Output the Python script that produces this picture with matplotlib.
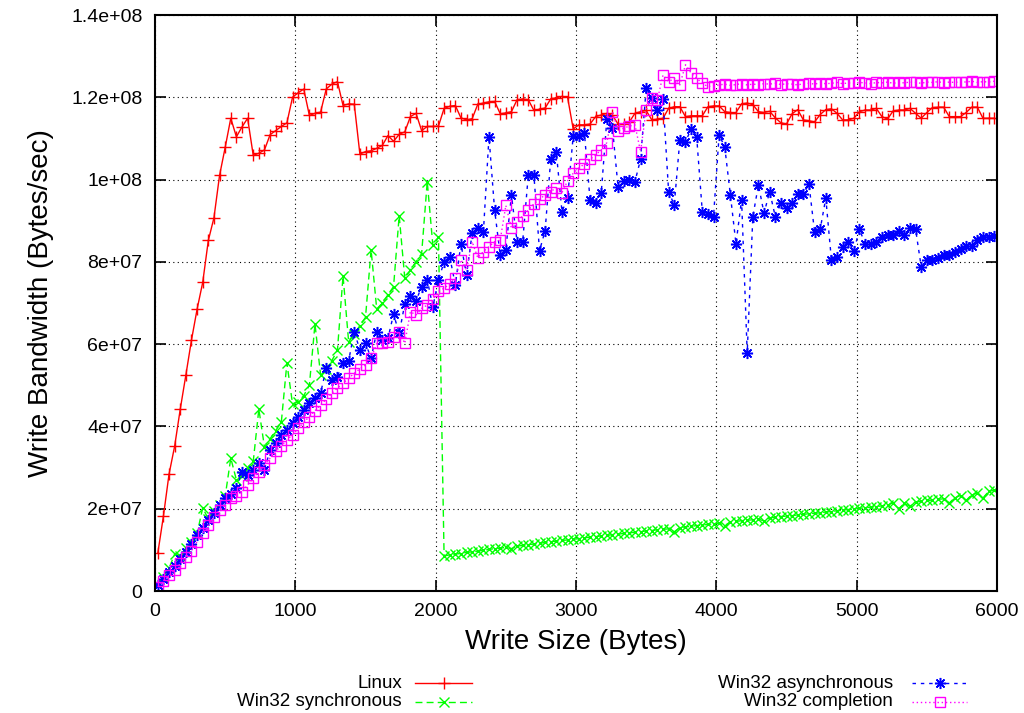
import numpy as np
import matplotlib.pyplot as plt
from matplotlib.lines import Line2D

plt.rcParams['font.family'] = ['Liberation Sans', 'DejaVu Sans']

# write sizes in bytes
sizes = np.arange(20, 6000, 40)

# bandwidth values in units of 1e6 bytes/sec
linux = [9.2, 18.2, 28.4, 35.2, 44.2, 52.5, 61.0, 68.5, 75.0, 85.2,
         90.7, 101.0, 107.8, 114.9, 110.4, 112.8, 114.9, 105.9, 106.4, 107.2,
         110.9, 111.9, 112.9, 113.8, 120.0, 121.1, 122.0, 115.6, 116.1, 116.4,
         122.0, 123.2, 123.8, 118.0, 118.4, 118.3, 106.2, 106.8, 107.0, 107.6,
         108.3, 110.7, 109.3, 111.0, 111.6, 115.3, 116.1, 111.9, 112.9, 112.9,
         113.0, 117.3, 117.8, 118.0, 115.0, 114.5, 114.8, 118.3, 118.6, 118.9,
         119.0, 116.0, 116.2, 116.5, 119.4, 119.6, 119.4, 116.8, 117.1, 117.4,
         119.6, 119.9, 120.2, 120.0, 112.3, 113.3, 113.3, 113.5, 115.3, 115.7,
         116.1, 115.6, 113.5, 113.5, 114.0, 116.1, 116.5, 116.8, 114.5, 114.7,
         114.9, 117.3, 117.7, 117.7, 115.3, 115.5, 115.5, 115.5, 117.7, 117.9,
         117.9, 116.5, 116.3, 116.3, 118.4, 118.6, 118.2, 116.5, 116.3, 116.6,
         115.0, 113.8, 113.5, 116.0, 117.0, 114.5, 114.3, 114.0, 115.8, 117.0,
         117.2, 116.1, 114.5, 114.5, 114.9, 116.5, 116.9, 116.9, 117.3, 115.3,
         114.7, 116.7, 116.9, 116.9, 117.3, 116.1, 114.9, 116.3, 117.5, 117.6,
         117.6, 115.3, 115.3, 115.3, 116.3, 117.6, 117.6, 114.9, 114.9, 114.9]

win32_sync = [1.5, 3.5, 5.5, 9.0, 8.5, 10.5, 12.0, 14.0, 20.2, 17.5,
              19.5, 21.0, 23.0, 32.3, 27.0, 28.0, 30.0, 31.5, 44.2, 35.0,
              37.0, 39.0, 41.0, 55.4, 45.5, 46.0, 47.5, 50.0, 64.9, 52.5,
              54.0, 56.0, 58.5, 76.6, 60.5, 62.5, 64.5, 66.5, 82.9, 68.5,
              70.0, 72.0, 74.0, 91.2, 76.0, 78.0, 80.0, 82.0, 99.5, 84.0,
              86.0,
              8.5, 8.8, 9.0, 9.1, 9.4, 9.5, 9.7, 9.9, 10.1, 10.3,
              10.4, 10.6, 10.3, 10.9, 11.1, 11.3, 11.4, 11.6, 11.8, 12.0,
              12.1, 12.3, 12.4, 12.6, 12.7, 12.9, 13.1, 13.2, 13.4, 13.5,
              13.7, 13.8, 14.0, 14.1, 14.3, 14.4, 14.6, 14.7, 14.9, 15.0,
              15.1, 14.4, 15.4, 15.6, 15.7, 15.9, 16.0, 16.2, 16.3, 16.5,
              15.9, 16.8, 16.9, 17.1, 17.2, 17.3, 17.5, 17.0, 17.8, 17.9,
              18.1, 18.2, 18.3, 18.5, 18.6, 18.8, 18.9, 19.0, 19.2, 19.3,
              19.5, 19.6, 19.8, 19.9, 20.1, 20.2, 20.4, 20.5, 20.7, 20.9,
              21.5, 20.0, 21.3, 20.6, 21.6, 21.8, 22.0, 22.1, 22.3, 22.4,
              21.4, 22.7, 23.2, 22.0, 23.4, 23.8, 22.6, 24.2, 24.5]

win32_async = [1.5, 3.0, 4.5, 6.0, 7.8, 9.6, 11.5, 13.5, 15.2, 17.3,
               19.0, 21.0, 22.5, 23.5, 25.0, 29.0, 28.2, 29.4, 31.0, 29.4,
               34.3, 35.9, 37.9, 39.1, 40.9, 42.4, 44.0, 45.6, 46.8, 48.1,
               54.1, 51.3, 52.1, 55.5, 56.0, 63.0, 58.6, 60.2, 56.6, 63.0,
               61.0, 61.4, 67.3, 62.6, 69.8, 71.7, 70.5, 74.0, 75.6, 69.1,
               75.6, 80.0, 81.3, 74.4, 84.4, 76.8, 87.0, 88.2, 87.2, 110.4,
               92.6, 81.7, 83.0, 96.3, 84.9, 84.9, 101.1, 101.1, 82.7, 87.6,
               105.0, 106.6, 92.2, 95.5, 110.6, 110.6, 111.3, 95.1, 94.4, 96.8,
               114.7, 112.5, 98.1, 99.7, 99.9, 99.5, 104.9, 122.2, 119.8, 116.9,
               119.5, 97.1, 93.8, 109.6, 109.2, 112.2, 110.3, 92.2, 91.6, 91.0,
               110.9, 107.9, 96.3, 84.4, 95.1, 57.9, 91.0, 98.7, 91.8, 97.1,
               91.0, 94.2, 93.0, 94.4, 96.5, 96.5, 98.9, 87.3, 87.9, 95.5,
               80.5, 81.3, 83.7, 84.9, 82.7, 87.9, 84.4, 84.4, 84.9, 86.0,
               86.5, 86.5, 87.6, 86.5, 88.2, 87.9, 78.8, 80.5, 80.5, 80.9,
               81.7, 81.7, 82.5, 83.1, 83.9, 83.9, 85.2, 86.0, 86.0, 86.3]

win32_completion = [1.0, 2.5, 3.8, 5.1, 6.8, 8.3, 9.8, 12.0, 14.0, 16.0,
                    18.0, 19.7, 21.0, 22.5, 23.2, 24.1, 25.8, 27.4, 29.0, 30.6,
                    32.3, 34.0, 35.3, 36.7, 38.0, 39.5, 41.0, 42.4, 43.8, 45.2,
                    46.6, 48.1, 49.3, 50.5, 51.7, 52.9, 54.0, 54.9, 56.6, 60.2,
                    60.2, 60.5, 61.8, 63.0, 60.2, 67.9, 67.1, 68.7, 69.5, 70.9,
                    72.8, 73.6, 74.6, 76.0, 80.5, 78.0, 84.9, 81.0, 82.5, 83.7,
                    84.9, 85.3, 93.7, 88.2, 89.6, 91.2, 92.6, 94.1, 95.2, 96.3,
                    97.1, 98.0, 96.8, 99.7, 101.5, 102.8, 103.8, 104.9, 106.0, 107.2,
                    109.0, 116.5, 111.7, 112.5, 113.0, 113.3, 106.8, 116.9, 119.8, 119.4,
                    125.4, 123.8, 124.6, 123.0, 127.9, 125.9, 124.6, 123.4, 122.6, 122.8,
                    123.0, 123.2, 122.9, 123.1, 123.3, 123.0, 123.2, 123.1, 123.3, 123.2,
                    123.4, 123.1, 123.3, 123.2, 123.0, 123.3, 123.4, 123.2, 123.5, 123.3,
                    123.4, 123.6, 123.3, 123.5, 123.4, 123.6, 123.5, 123.3, 123.6, 123.5,
                    123.7, 123.4, 123.6, 123.5, 123.7, 123.6, 123.4, 123.7, 123.6, 123.8,
                    123.5, 123.7, 123.6, 123.8, 123.7, 123.9, 123.6, 123.8, 123.7, 123.9]

labels = ['Linux', 'Win32 synchronous', 'Win32 asynchronous', 'Win32 completion']
y_ticks = [0, 2e7, 4e7, 6e7, 8e7, 1e8, 1.2e8, 1.4e8]
y_ticklabels = ['0', '2e+07', '4e+07', '6e+07', '8e+07', '1e+08', '1.2e+08', '1.4e+08']

styles = [
    dict(color='#ff0000', linestyle='-', marker='+', ms=9, mew=1.0),
    dict(color='#00ff00', linestyle=(0, (5, 3)), marker='x', ms=7, mew=1.0),
    dict(color='#0000ff', linestyle=(0, (2.5, 3.5)), marker=(8, 2, 0), ms=8, mew=1.1),
    dict(color='#ff00ff', linestyle=(0, (1, 2)), marker='s', ms=7, mew=1.0,
         mfc='none'),
]

W, H = 1024, 713
fig = plt.figure(figsize=(W / 100, H / 100), dpi=100)
ax = fig.add_axes([155 / W, 1 - 591 / H, (997 - 155) / W, (591 - 15) / H])

series = [linux, win32_sync, win32_async, win32_completion]
for vals, st in zip(series, styles):
    ax.plot(sizes, np.array(vals) * 1e6, lw=1.0, **st)

ax.set_xlim(0, 6000)
ax.set_ylim(0, 1.4e8)
ax.set_xticks(range(0, 6001, 1000))
ax.set_yticks(y_ticks)
ax.set_yticklabels(y_ticklabels)
ax.tick_params(direction='in', length=8, width=1.2, top=True, right=True,
               labelsize=14, pad=9)
ax.grid(True, color='black', linestyle=(0, (1, 3)), linewidth=0.8)
for sp in ax.spines.values():
    sp.set_linewidth(1.5)

ax.set_xlabel('Write Size (Bytes)', fontsize=20, labelpad=6)
ax.set_ylabel('Write Bandwidth (Bytes/sec)', fontsize=20, labelpad=12)

# gnuplot-style legend below the plot
legend_pos = [(402, 415, 472, 683), (402, 415, 472, 702),
              (893, 912, 967, 683), (893, 912, 967, 702)]
for lab, st, (xr, x0, x1, y) in zip(labels, styles, legend_pos):
    yf = 1 - y / H
    fig.text(xr / W, yf, lab, ha='right', va='center', fontsize=13.5)
    fig.add_artist(Line2D([x0 / W, x1 / W], [yf, yf], transform=fig.transFigure,
                          color=st['color'], linestyle=st['linestyle'], lw=1.0))
    mst = {k: v for k, v in st.items() if k != 'linestyle'}
    fig.add_artist(Line2D([(x0 + x1) / 2 / W], [yf], transform=fig.transFigure,
                          linestyle='none', **mst))

fig.savefig('out.png', dpi=100)
